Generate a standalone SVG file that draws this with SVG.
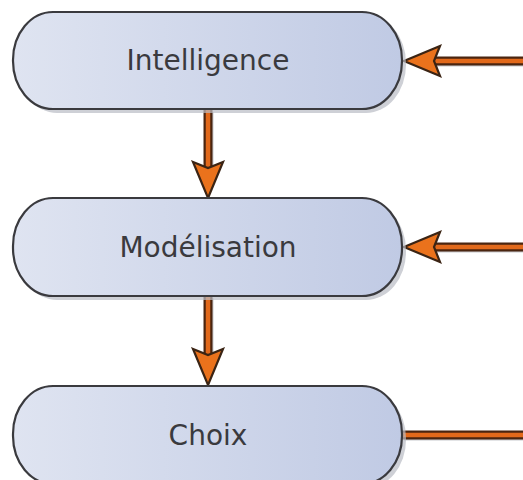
<svg xmlns="http://www.w3.org/2000/svg" width="523" height="480" viewBox="0 0 523 480">
  <defs>
    <linearGradient id="boxFill" x1="0" y1="0" x2="1" y2="0">
      <stop offset="0" stop-color="#dfe4f1"/>
      <stop offset="1" stop-color="#c0cae4"/>
    </linearGradient>
    <!-- arrowhead pointing along +x, tip at origin -->
    <path id="head" d="M0,0 L-36,-15 L-30,0 L-36,15 Z" fill="#ea721c" stroke="#3b2414" stroke-width="2.2" stroke-linejoin="miter"/>
  </defs>
  <style>
    .box { fill: url(#boxFill); stroke: #3a3a3e; stroke-width: 2.2; }
    .shadow { fill: #b9bcc4; opacity: 0.7; }
    .label { font-family: "DejaVu Sans", Verdana, sans-serif; font-size: 28px; fill: #3a3a3e; text-anchor: middle; }
    .wire-out { stroke: #4a2510; stroke-width: 9; fill: none; }
    .wire-in { stroke: #e2691b; stroke-width: 4.5; fill: none; }
    .wire-shadow { stroke: #b9bcc0; stroke-width: 3; fill: none; opacity: 0.8; }
  </style>

  <rect width="523" height="480" fill="#ffffff"/>

  <g id="connectors">
    <!-- Intelligence -> Modélisation -->
    <line class="wire-shadow" x1="212" y1="112" x2="212" y2="166"/>
    <line class="wire-out" x1="208" y1="110" x2="208" y2="168"/>
    <line class="wire-in" x1="208" y1="110" x2="208" y2="168"/>
    <use href="#head" transform="translate(208,198) rotate(90)"/>

    <!-- Modélisation -> Choix -->
    <line class="wire-shadow" x1="212" y1="298" x2="212" y2="352"/>
    <line class="wire-out" x1="208" y1="297" x2="208" y2="354"/>
    <line class="wire-in" x1="208" y1="297" x2="208" y2="354"/>
    <use href="#head" transform="translate(208,385) rotate(90)"/>

    <!-- return into Intelligence -->
    <line class="wire-shadow" x1="436" y1="65" x2="523" y2="65"/>
    <line class="wire-out" x1="432" y1="61" x2="523" y2="61"/>
    <line class="wire-in" x1="432" y1="61" x2="523" y2="61"/>
    <use href="#head" transform="translate(404,61) rotate(180)"/>

    <!-- return into Modélisation -->
    <line class="wire-shadow" x1="436" y1="251" x2="523" y2="251"/>
    <line class="wire-out" x1="432" y1="247" x2="523" y2="247"/>
    <line class="wire-in" x1="432" y1="247" x2="523" y2="247"/>
    <use href="#head" transform="translate(404,247) rotate(180)"/>

    <!-- out of Choix -->
    <line class="wire-shadow" x1="404" y1="439" x2="523" y2="439"/>
    <line class="wire-out" x1="402" y1="435" x2="523" y2="435"/>
    <line class="wire-in" x1="402" y1="435" x2="523" y2="435"/>
  </g>

  <g id="intelligence">
    <rect class="shadow" x="17" y="15" width="389" height="98" rx="40" ry="48"/>
    <rect class="box" x="13" y="12" width="389" height="97" rx="40" ry="48"/>
    <text class="label" x="208" y="70">Intelligence</text>
  </g>

  <g id="modelisation">
    <rect class="shadow" x="17" y="202" width="389" height="98" rx="40" ry="48"/>
    <rect class="box" x="13" y="198" width="389" height="98" rx="40" ry="48"/>
    <text class="label" x="208" y="257">Modélisation</text>
  </g>

  <g id="choix">
    <rect class="shadow" x="17" y="390" width="389" height="98" rx="40" ry="48"/>
    <rect class="box" x="13" y="386" width="389" height="98" rx="40" ry="48"/>
    <text class="label" x="208" y="445">Choix</text>
  </g>
</svg>
